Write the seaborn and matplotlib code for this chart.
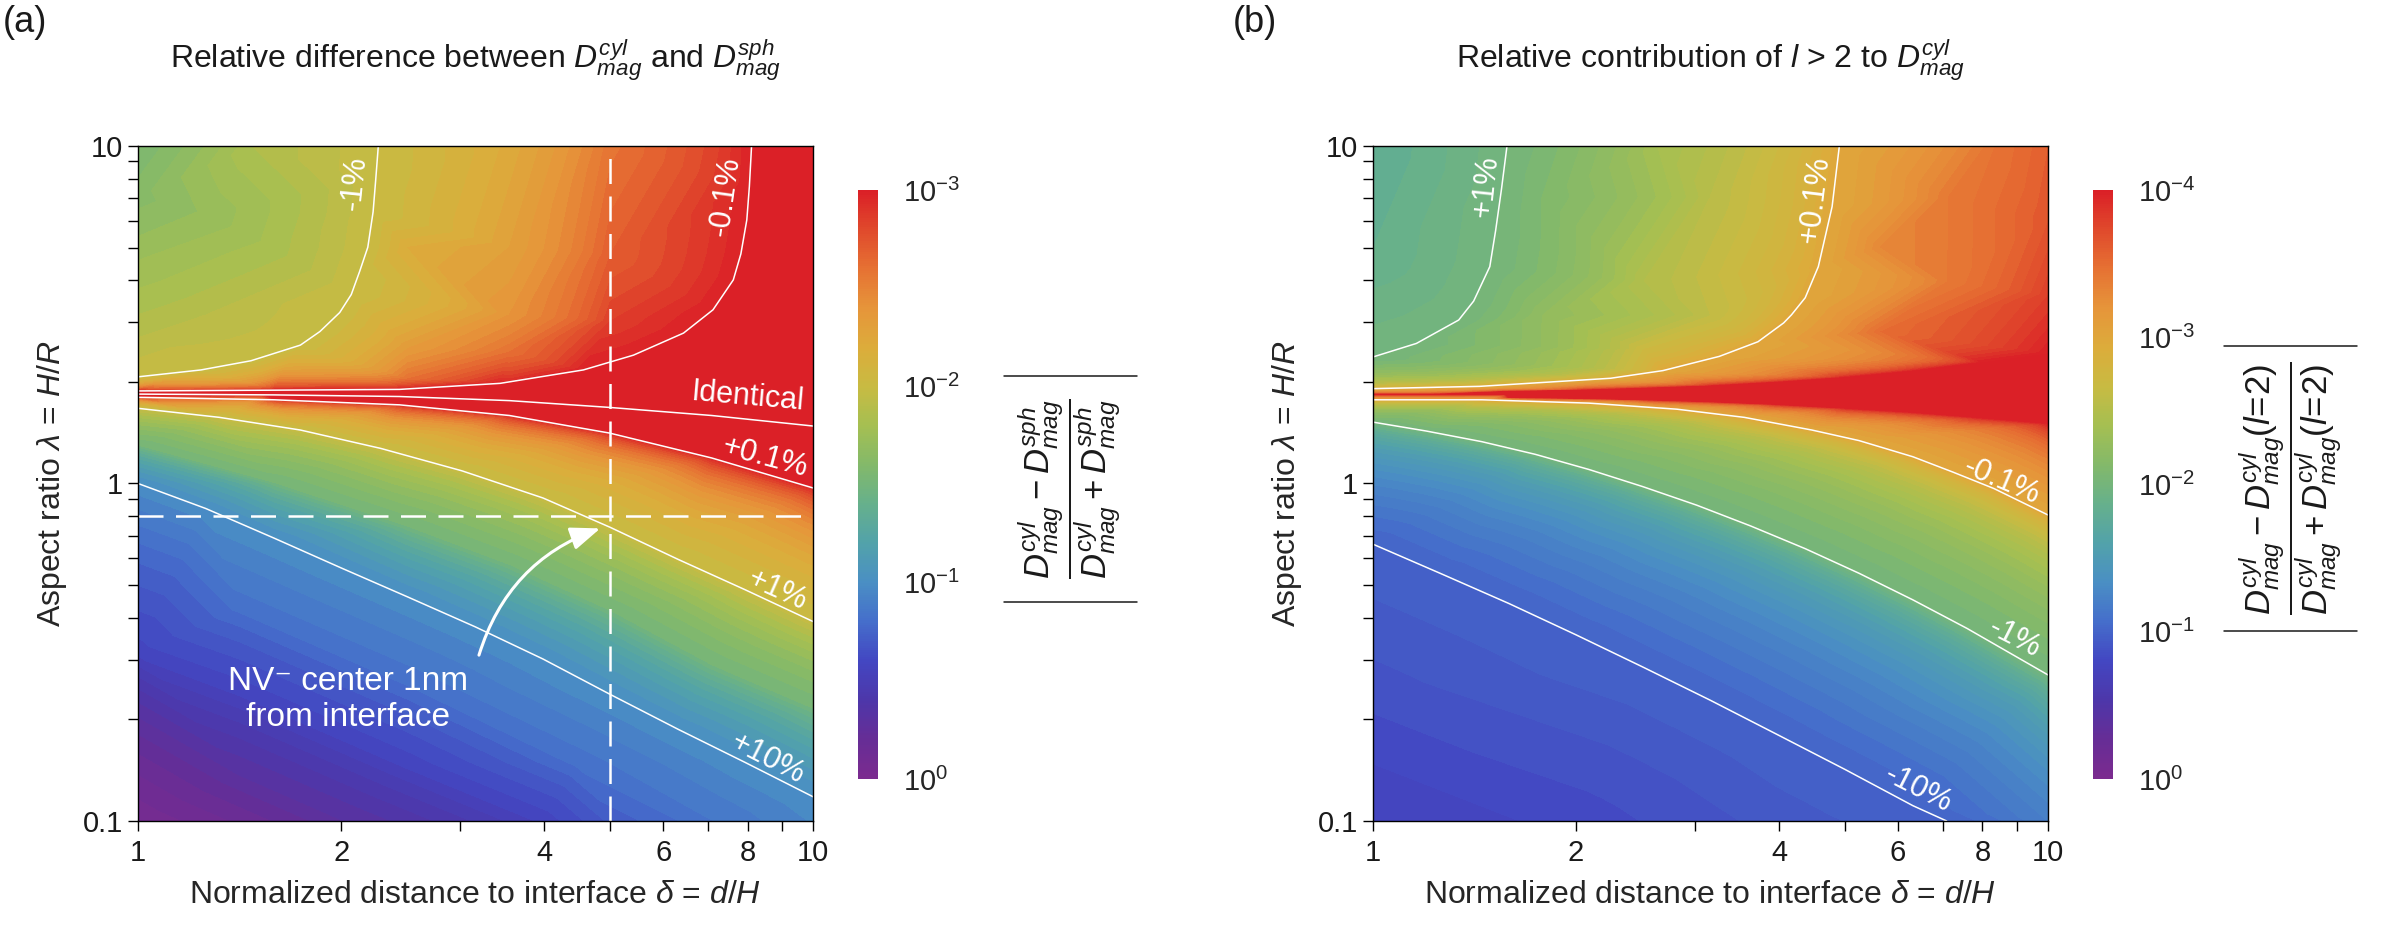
import numpy as np
import matplotlib
matplotlib.use("Agg")
import matplotlib.pyplot as plt
import matplotlib.tri as mtri
from matplotlib.colors import Normalize
from matplotlib.cm import ScalarMappable
from matplotlib.lines import Line2D
from matplotlib.ticker import NullLocator, NullFormatter, LogLocator, FixedLocator
import seaborn as sns

sns.set_theme(style="ticks")
plt.rcParams["font.family"] = ["Liberation Sans", "DejaVu Sans"]
plt.rcParams["mathtext.fontset"] = "custom"
plt.rcParams["mathtext.rm"] = "Liberation Sans"
plt.rcParams["mathtext.it"] = "Liberation Sans:italic"
plt.rcParams["mathtext.bf"] = "Liberation Sans:bold"
plt.rcParams["axes.edgecolor"] = "black"
plt.rcParams["axes.linewidth"] = 1.0
plt.rcParams["text.color"] = "#1a1a1a"

# ---------------- data ----------------
# delta = d/H, lambda = H/R, value = signed relative difference (fraction)

# (a) contour lines
a_m1_d = [1.00, 1.24, 1.47, 1.74, 1.86, 1.99, 2.07, 2.13, 2.19, 2.23, 2.25, 2.27]
a_m1_l = [2.07, 2.17, 2.31, 2.57, 2.82, 3.21, 3.63, 4.25, 5.01, 6.38, 7.94, 10.0]
a_m01_d = [1.00, 1.59, 2.44, 3.44, 4.57, 5.42, 6.43, 7.11, 7.62, 7.82, 7.98, 8.05, 8.11]
a_m01_l = [1.88, 1.89, 1.90, 1.98, 2.17, 2.40, 2.79, 3.27, 4.01, 4.79, 6.04, 7.59, 10.0]
a_zero_d = [1.00, 1.59, 2.44, 3.55, 5.00, 7.08, 10.0]
a_zero_l = [1.84, 1.83, 1.81, 1.76, 1.68, 1.59, 1.48]
a_p01_d = [1.00, 1.59, 2.44, 3.55, 5.00, 7.08, 10.0]
a_p01_l = [1.80, 1.77, 1.71, 1.59, 1.41, 1.19, 0.97]
a_p1_d = [1.00, 1.32, 1.74, 2.29, 3.02, 3.98, 5.01, 6.31, 7.94, 10.0]
a_p1_l = [1.67, 1.57, 1.44, 1.27, 1.09, 0.906, 0.741, 0.596, 0.484, 0.390]
a_p10_d = [1.00, 1.26, 1.59, 2.00, 2.51, 3.16, 3.98, 5.01, 6.31, 7.94, 10.0]
a_p10_l = [1.00, 0.843, 0.689, 0.562, 0.461, 0.376, 0.302, 0.237, 0.187, 0.149, 0.118]

# (a) field values read at edges and between the lines
a_pt_d = [1.0, 1.48, 3.55, 5.01, 7.08, 10.0,
          1.0, 1.0, 1.0, 1.0,
          2.0, 3.98, 5.01, 7.08, 10.0,
          10.0,
          1.58, 2.51, 2.51, 2.51, 3.55, 3.55, 3.55, 3.55, 5.01, 5.01,
          1.26, 1.26,
          1.0, 1.59, 2.51, 3.55, 5.01, 7.08, 10.0,
          1.41, 1.41, 1.41, 2.51, 2.51, 4.47]
a_pt_l = [10.0, 10.0, 10.0, 10.0, 10.0, 10.0,
          7.08, 4.47, 0.316, 0.1,
          0.1, 0.1, 0.1, 0.1, 0.1,
          3.98,
          5.01, 5.01, 2.51, 2.04, 5.01, 3.16, 2.45, 2.04, 4.79, 3.02,
          6.31, 3.16,
          1.29, 1.00, 0.741, 0.571, 0.417, 0.288, 0.214,
          0.429, 0.241, 0.136, 0.260, 0.146, 0.149]
a_pt_v = [-0.028, -0.0141, -0.00603, -0.00263, -0.00151, -0.0005,
          -0.0235, -0.0175, 0.263, 0.871,
          0.501, 0.269, 0.191, 0.141, 0.110,
          -0.0004,
          -0.0151, -0.00631, -0.00447, -0.00251, -0.00501, -0.00398, -0.00251, -0.00126,
          -0.002, -0.00141,
          -0.0195, -0.0126,
          0.0316, 0.0316, 0.0316, 0.0316, 0.0316, 0.0316, 0.0316,
          0.15, 0.269, 0.5, 0.15, 0.269, 0.15]

nv_delta = 5.0
nv_lambda = 0.8

# (b) contour lines
b_p1_d = [1.00, 1.16, 1.34, 1.41, 1.49, 1.52, 1.55, 1.58]
b_p1_l = [2.37, 2.60, 3.05, 3.47, 4.39, 5.62, 7.41, 10.0]
b_p01_d = [1.00, 1.44, 2.25, 2.69, 3.26, 3.72, 4.06, 4.17, 4.37, 4.57, 4.79, 4.91]
b_p01_l = [1.91, 1.94, 2.05, 2.16, 2.38, 2.63, 2.99, 3.16, 3.55, 4.39, 6.61, 10.0]
b_m01_d = [1.00, 1.45, 2.09, 2.82, 3.55, 4.47, 5.25, 6.31, 7.24, 8.32, 10.0]
b_m01_l = [1.77, 1.77, 1.73, 1.66, 1.57, 1.44, 1.34, 1.20, 1.08, 0.966, 0.807]
b_m1_d = [1.00, 1.20, 1.45, 1.74, 2.09, 2.51, 3.02, 3.63, 4.37, 5.25, 6.31, 7.59, 10.0]
b_m1_l = [1.52, 1.43, 1.33, 1.22, 1.10, 0.979, 0.862, 0.748, 0.641, 0.542, 0.452, 0.372, 0.271]
b_m10_d = [1.00, 1.26, 1.59, 2.00, 2.51, 3.16, 3.98, 5.01, 6.31, 7.08]
b_m10_l = [0.661, 0.541, 0.441, 0.356, 0.286, 0.228, 0.180, 0.142, 0.111, 0.100]

# (b) zero line and edges of the deep red core (1e-4)
b_zero_d = [1.00, 1.26, 1.59, 2.00, 2.51, 3.16, 3.98, 5.01, 6.31, 7.94, 10.0]
b_zero_l = [1.842, 1.842, 1.843, 1.845, 1.846, 1.849, 1.854, 1.862, 1.875, 1.897, 1.919]
b_redup_d = [1.59, 2.00, 2.51, 3.16, 3.98, 5.01, 6.31, 7.94, 10.0]
b_redup_l = [1.884, 1.897, 1.923, 1.954, 2.004, 2.070, 2.163, 2.291, 2.438]
b_redlo_d = [1.59, 2.00, 2.51, 3.16, 3.98, 5.01, 6.31, 7.94, 10.0]
b_redlo_l = [1.803, 1.791, 1.774, 1.750, 1.718, 1.675, 1.629, 1.570, 1.510]

# (b) field values read at edges and between the lines
b_pt_d = [1.0, 2.63, 8.32, 10.0,
          10.0, 10.0, 10.0,
          1.0, 1.0, 1.0,
          2.0, 3.98,
          2.51, 7.08, 2.51,
          1.78, 1.78, 3.16, 3.16, 5.62, 5.62, 7.08]
b_pt_l = [10.0, 10.0, 10.0, 10.0,
          6.03, 3.63, 0.1,
          5.01, 0.251, 0.1,
          0.1, 0.1,
          3.98, 3.98, 2.51,
          7.08, 3.16, 7.08, 3.16, 5.01, 2.82, 7.08]
b_pt_v = [0.0158, 0.00398, 0.000355, 0.000251,
          0.000224, 0.000158, -0.0631,
          0.0141, -0.132, -0.178,
          -0.151, -0.12,
          0.00316, 0.000398, 0.002,
          0.0079, 0.0056, 0.0028, 0.0025, 0.0005, 0.000316, 0.0004]

cmap_colors = ["#7b2b8f", "#662d96", "#4d37aa", "#4347c2", "#456ecb", "#4a8fc4",
               "#52a2aa", "#66b08c", "#83b96a", "#a5bf52", "#c8bb42", "#dcac3b",
               "#e6953a", "#e67233", "#e04a2c", "#db2027"]
cmap = sns.blend_palette(cmap_colors, n_colors=256, as_cmap=True)


def gather(lines, pts):
    d, l, v = [], [], []
    for dd, ll, val in lines:
        d += list(dd)
        l += list(ll)
        v += [val] * len(dd)
    d += list(pts[0])
    l += list(pts[1])
    v += list(pts[2])
    return np.log10(d), np.log10(l), np.array(v)


def draw_field(fax, u, w, v, dec, band=(0.1, 0.5), k=0.0):
    # signed value is shaded by its magnitude on a log colour scale
    n = 20 * dec
    mags = 10.0 ** np.linspace(-dec, 0, n + 1)
    levels = np.concatenate([[-100.0], -mags[::-1], mags, [100.0]])
    shades = [cmap(1 - (j + 0.5) / n) for j in range(n)]
    colors = [cmap(0.0)] + shades[::-1] + [cmap(1.0)] + shades + [cmap(0.0)]
    # mesh is built with the thin central band opened up vertically
    wt = w + k * np.clip(w - band[0], 0, band[1] - band[0])
    t0 = mtri.Triangulation(u, wt)
    tri = mtri.Triangulation(u, w, triangles=t0.triangles)
    fax.tricontourf(tri, v, levels=levels, colors=colors, antialiased=False)
    fax.set_xlim(0, 1)
    fax.set_ylim(-1, 1)
    fax.set_axis_off()


def style_axes(ax):
    ax.set_xscale("log")
    ax.set_yscale("log")
    ax.set_xlim(1, 10)
    ax.set_ylim(0.1, 10)
    ax.patch.set_visible(False)
    ax.xaxis.set_major_locator(FixedLocator([1, 2, 3, 4, 5, 6, 7, 8, 9, 10]))
    ax.set_xticklabels(["1", "2", "", "4", "", "6", "", "8", "", "10"])
    ax.xaxis.set_minor_locator(NullLocator())
    ax.yaxis.set_major_locator(FixedLocator([0.1, 1, 10]))
    ax.set_yticklabels(["0.1", "1", "10"])
    ax.yaxis.set_minor_locator(LogLocator(base=10, subs=range(2, 10)))
    ax.yaxis.set_minor_formatter(NullFormatter())
    ax.tick_params(which="both", direction="out", length=7, width=1, color="black",
                   labelsize=21, labelcolor="#1a1a1a")
    ax.tick_params(axis="x", pad=6)
    ax.tick_params(axis="y", pad=4)
    for s in ax.spines.values():
        s.set_visible(True)
        s.set_color("black")
    ax.set_xlabel(r"Normalized distance to interface $\delta$ = $d/H$", fontsize=23)
    ax.set_ylabel(r"Aspect ratio $\lambda$ = $H/R$", fontsize=23)
    ax.xaxis.set_label_coords(0.5, -0.11)
    ax.xaxis.label.set_va("center")
    ax.yaxis.set_label_coords(-0.127, 0.5)
    ax.yaxis.label.set_va("center")


def colorbar(fig, rect, top, labels, text, text_x, bar_x, bar_y):
    cax = fig.add_axes(rect)
    sm = ScalarMappable(norm=Normalize(0, top), cmap=cmap)
    cb = fig.colorbar(sm, cax=cax, ticks=list(range(top + 1)))
    cb.set_ticklabels(labels)
    cb.outline.set_visible(False)
    cax.tick_params(length=0, pad=18, labelsize=21)
    fig.text(text_x, 0.4815, text, rotation=90, ha="center", va="center", fontsize=25)
    for y in bar_y:
        fig.add_artist(Line2D(bar_x, [y, y], transform=fig.transFigure,
                              color="#1a1a1a", lw=1.1))


fig = plt.figure(figsize=(23.96, 9.43), dpi=100)
fig.patch.set_facecolor("white")

rect_a = [0.0576, 0.1294, 0.2817, 0.7158]
rect_b = [0.5730, 0.1294, 0.2817, 0.7158]
lc = dict(color="white", lw=1.1)
lab = dict(color="white", fontsize=22, ha="center", va="center", rotation_mode="anchor")

# ---------------- panel (a) ----------------
fa = fig.add_axes(rect_a)
ua, wa, va = gather([(a_m1_d, a_m1_l, -0.01), (a_m01_d, a_m01_l, -0.001),
                     (a_zero_d, a_zero_l, 0.0), (a_p01_d, a_p01_l, 0.001),
                     (a_p1_d, a_p1_l, 0.01), (a_p10_d, a_p10_l, 0.1)],
                    (a_pt_d, a_pt_l, a_pt_v))
draw_field(fa, ua, wa, va, 3)
ax = fig.add_axes(rect_a)
style_axes(ax)
for dd, ll in [(a_m1_d, a_m1_l), (a_m01_d, a_m01_l), (a_zero_d, a_zero_l),
               (a_p01_d, a_p01_l), (a_p1_d, a_p1_l), (a_p10_d, a_p10_l)]:
    ax.plot(dd, ll, **lc)
ax.axvline(nv_delta, color="white", lw=1.8, dashes=(10, 5))
ax.axhline(nv_lambda, color="white", lw=1.8, dashes=(10, 5))
ax.text(2.09, 7.76, "-1%", rotation=84, **lab)
ax.text(7.41, 7.08, "-0.1%", rotation=82, **lab)
ax.text(7.98, 1.81, "Identical", rotation=-5, **lab)
ax.text(8.49, 1.19, "+0.1%", rotation=-15, **lab)
ax.text(8.85, 0.483, "+1%", rotation=-24, **lab)
ax.text(8.57, 0.153, "+10%", rotation=-27, **lab)
ax.text(2.05, 0.229, "NV\u207b center 1nm\nfrom interface", color="white", fontsize=24,
        ha="center", va="center", multialignment="center", linespacing=1.2)
ax.annotate("", xy=(4.84, 0.736), xytext=(3.2, 0.31),
            arrowprops=dict(arrowstyle="-|>,head_length=0.9,head_width=0.35",
                            color="white", lw=2.2, mutation_scale=20,
                            connectionstyle="arc3,rad=-0.25", shrinkA=0, shrinkB=0))
ax.text(0.5, 1.1156, r"Relative difference between $D^{cyl}_{mag}$ and $D^{sph}_{mag}$",
        transform=ax.transAxes, ha="center", va="baseline", fontsize=23)
fig.text(0.001, 1 - 22 / 943, "(a)", fontsize=26, ha="left", va="center")
colorbar(fig, [0.3581, 0.1739, 0.00835, 0.6246], 3,
         [r"$10^{0}$", r"$10^{-1}$", r"$10^{-2}$", r"$10^{-3}$"],
         r"$\dfrac{D^{cyl}_{mag} - D^{sph}_{mag}}{D^{cyl}_{mag} + D^{sph}_{mag}}$",
         0.4466, [0.4190, 0.4746], [0.6013, 0.3616])

# ---------------- panel (b) ----------------
fb = fig.add_axes(rect_b)
ub, wb, vb = gather([(b_p1_d, b_p1_l, 0.01), (b_p01_d, b_p01_l, 0.001),
                     (b_zero_d, b_zero_l, 0.0), (b_redup_d, b_redup_l, 0.0001),
                     (b_redlo_d, b_redlo_l, -0.0001), (b_m01_d, b_m01_l, -0.001),
                     (b_m1_d, b_m1_l, -0.01), (b_m10_d, b_m10_l, -0.1)],
                    (b_pt_d, b_pt_l, b_pt_v))
draw_field(fb, ub, wb, vb, 4, band=(0.1, 0.45), k=3.0)
bx = fig.add_axes(rect_b)
style_axes(bx)
for dd, ll in [(b_p1_d, b_p1_l), (b_p01_d, b_p01_l), (b_m01_d, b_m01_l),
               (b_m1_d, b_m1_l), (b_m10_d, b_m10_l)]:
    bx.plot(dd, ll, **lc)
bx.text(1.472, 7.59, "+1%", rotation=84, **lab)
bx.text(4.52, 6.92, "+0.1%", rotation=83, **lab)
bx.text(8.55, 1.016, "-0.1%", rotation=-23, **lab)
bx.text(8.93, 0.348, "-1%", rotation=-27, **lab)
bx.text(6.43, 0.124, "-10%", rotation=-27, **lab)
bx.text(0.5, 1.1156, r"Relative contribution of $l$ > 2 to $D^{cyl}_{mag}$",
        transform=bx.transAxes, ha="center", va="baseline", fontsize=23)
fig.text(1233 / 2396, 1 - 22 / 943, "(b)", fontsize=26, ha="left", va="center")
colorbar(fig, [0.8735, 0.1739, 0.00835, 0.6246], 4,
         [r"$10^{0}$", r"$10^{-1}$", r"$10^{-2}$", r"$10^{-3}$", r"$10^{-4}$"],
         r"$\dfrac{D^{cyl}_{mag} - D^{cyl}_{mag}(l\!=\!2)}{D^{cyl}_{mag} + D^{cyl}_{mag}(l\!=\!2)}$",
         0.9558, [0.9282, 0.9837], [0.6331, 0.3309])

fig.savefig("out.png", dpi=100)
